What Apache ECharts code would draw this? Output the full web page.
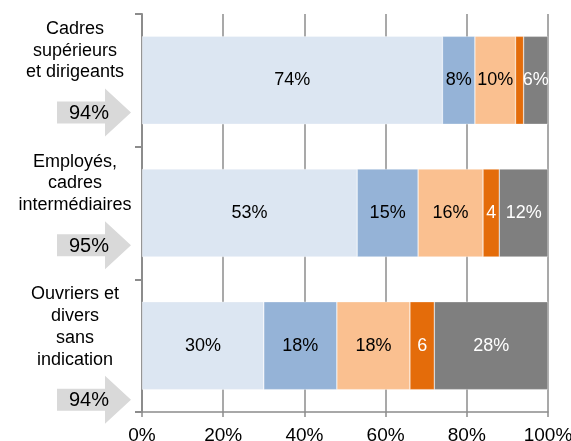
<!DOCTYPE html>
<html>
<head>
<meta charset="utf-8">
<script src="https://cdn.jsdelivr.net/npm/echarts@6/dist/echarts.min.js"></script>
<style>html,body{margin:0;padding:0;background:#fff;overflow:hidden;}#c{position:absolute;left:0;top:0;width:571px;height:441px;}</style>
</head>
<body>
<div id="c"></div>
<script>
var categories = ['Cadres\nsupérieurs\net dirigeants', 'Employés,\ncadres\nintermédiaires', 'Ouvriers et\ndivers\nsans\nindication'];
var arrowValues = [94, 95, 94];
var seriesNames = ['s1', 's2', 's3', 's4', 's5'];
var s1 = [74, 53, 30];
var s2 = [8, 15, 18];
var s3 = [10, 16, 18];
var s4 = [2, 4, 6];
var s5 = [6, 12, 28];
var xTicks = [0, 20, 40, 60, 80, 100];

var FONT = "'Liberation Sans', Arial, sans-serif";
var colors = ['#DCE6F2', '#95B3D7', '#FAC090', '#E46C0A', '#7F7F7F'];
var labelColors = ['#000', '#000', '#000', '#fff', '#fff'];
var axisGray = '#8c8c8c';

var chart = echarts.init(document.getElementById('c'), null, {renderer: 'canvas', width: 571, height: 441});

function barSeries(name, data, i, fmt) {
  return {
    name: name, type: 'bar', stack: 'total', data: data, barWidth: 88,
    itemStyle: {color: colors[i], borderColor: 'rgba(255,255,255,0.7)', borderWidth: 0.5},
    label: {show: true, position: 'inside', color: labelColors[i], fontFamily: FONT, fontSize: 18,
      formatter: fmt || function (p) { return p.value + '%'; }},
    silent: true
  };
}

var option = {
  animation: false,
  grid: {left: 142, right: 23, top: 14, bottom: 29, containLabel: false, outerBoundsMode: 'none'},
  xAxis: {
    type: 'value', min: xTicks[0], max: xTicks[xTicks.length - 1], interval: 20,
    axisLine: {show: true, lineStyle: {color: axisGray, width: 1.5}},
    axisTick: {show: true, length: 5, lineStyle: {color: axisGray, width: 1.5}},
    splitLine: {show: true, lineStyle: {color: axisGray, width: 1.5}},
    axisLabel: {formatter: '{value}%', color: '#000', fontFamily: FONT, fontSize: 19, margin: 14}
  },
  yAxis: {
    type: 'category', data: categories, inverse: true, boundaryGap: true,
    axisLine: {show: true, lineStyle: {color: axisGray, width: 2}},
    axisTick: {show: true, length: 7, interval: 0, lineStyle: {color: axisGray, width: 2}},
    axisLabel: {show: false},
    splitLine: {show: false}
  },
  series: [
    barSeries(seriesNames[0], s1, 0),
    barSeries(seriesNames[1], s2, 1),
    barSeries(seriesNames[2], s3, 2),
    barSeries(seriesNames[3], s4, 3, function (p) { return p.value >= 3 ? String(p.value) : ''; }),
    barSeries(seriesNames[4], s5, 4),
    {
      type: 'custom', name: 'labels', clip: false, silent: true, z: 5,
      data: arrowValues.map(function (v, i) { return [0, i, v]; }),
      renderItem: function (params, api) {
        var idx = params.dataIndex;
        var p = api.coord([0, idx]);
        var band = api.size([0, 1])[1];
        var top = p[1] - band / 2;
        var x0 = p[0];
        var text = categories[idx];
        var lines = text.split('\n').length;
        var textTop = top + 4;
        var cy = textTop + (lines - 1) * 21.8 + 17 + 34;
        var xr = x0 - 11, xh = xr - 26, xl = xr - 74;
        return {
          type: 'group',
          children: [
            {type: 'text', style: {text: text, x: x0 - 67, y: textTop, align: 'center', textAlign: 'center',
              verticalAlign: 'top', textVerticalAlign: 'top', fontFamily: FONT, fontSize: 18, lineHeight: 21.8, fill: '#000'}},
            {type: 'polygon', shape: {points: [[xl, cy - 11], [xh, cy - 11], [xh, cy - 24], [xr, cy], [xh, cy + 24], [xh, cy + 11], [xl, cy + 11]]},
              style: {fill: '#D9D9D9'}},
            {type: 'text', z2: 10, style: {text: arrowValues[idx] + '%', x: x0 - 53, y: cy + 1, align: 'center', textAlign: 'center',
              verticalAlign: 'middle', textVerticalAlign: 'middle', fontFamily: FONT, fontSize: 20, fill: '#000'}}
          ]
        };
      }
    }
  ]
};
chart.setOption(option);
</script>
</body>
</html>
